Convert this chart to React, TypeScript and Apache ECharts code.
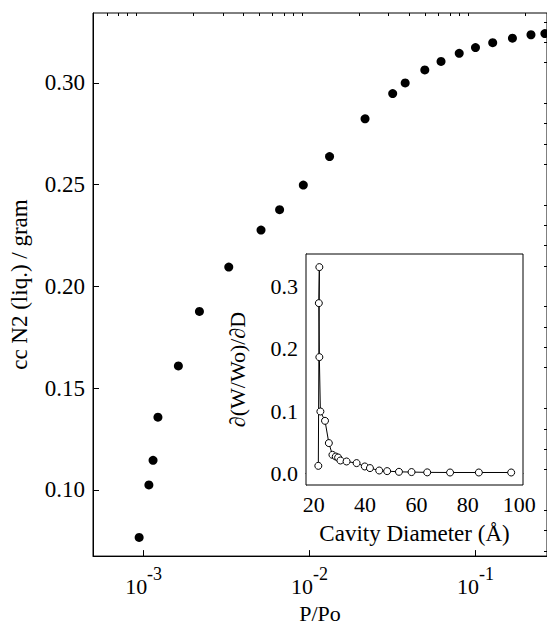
import React, { useEffect, useRef } from "react";
import * as echarts from "echarts";

// Main isotherm: relative pressure P/Po and adsorbed amount (cc N2 liq./gram)
const mainP = [9.4e-4, 1.076e-3, 1.14e-3, 1.22e-3, 1.62e-3, 2.17e-3, 3.26e-3, 5.1e-3, 6.6e-3, 9.17e-3, 1.32e-2, 2.16e-2, 3.17e-2, 3.77e-2, 4.95e-2, 6.2e-2, 7.98e-2, 0.1, 0.127, 0.167, 0.216, 0.262];
const mainV = [0.0766, 0.1024, 0.1145, 0.1357, 0.1609, 0.1877, 0.2095, 0.2277, 0.2377, 0.2498, 0.2638, 0.2824, 0.2948, 0.3, 0.3064, 0.3106, 0.3146, 0.3174, 0.3198, 0.322, 0.3237, 0.3243];

// Inset: cavity diameter (Å) and d(W/Wo)/dD
const insetD = [21.8, 22.2, 22.0, 22.2, 22.6, 24.4, 25.9, 27.3, 28.6, 29.5, 30.4, 32.8, 36.7, 39.9, 41.9, 45.5, 48.6, 53.2, 58.1, 64.2, 73.1, 84.3, 96.9];
const insetV = [0.012, 0.3315, 0.2736, 0.1868, 0.0994, 0.0844, 0.0486, 0.0297, 0.027, 0.0254, 0.0206, 0.019, 0.0164, 0.011, 0.0084, 0.0045, 0.0035, 0.0024, 0.002, 0.0015, 0.0013, 0.0013, 0.0013];

// Tick labels
const mainXMajor = [-3, -2, -1]; // log10(P/Po)
const mainYMajor = [0.1, 0.15, 0.2, 0.25, 0.3];
const insetXMajor = [20, 40, 60, 80, 100];
const insetYMajor = [0, 0.1, 0.2, 0.3];

const LMIN = -3.305;
const LMAX = -0.569;

const mainXMinor: number[] = [];
for (let n = -4; n <= -1; n++) {
  for (let k = 2; k <= 9; k++) {
    const v = n + Math.log10(k);
    if (v > LMIN && v < LMAX) mainXMinor.push(v);
  }
}
const mainYMinor: number[] = [];
for (let i = 7; i <= 33; i++) if (i % 5 !== 0) mainYMinor.push(i / 100);
const insetXMinor: number[] = [];
for (let i = 20; i <= 100; i += 5) if (i % 20 !== 0) insetXMinor.push(i);
const insetYMinor: number[] = [];
for (let i = 1; i <= 17; i++) if (i % 5 !== 0) insetYMinor.push(i * 0.02);

const FONT = "'Liberation Serif', 'Times New Roman', serif";
const BLACK = "#000";

export default function App() {
  const ref = useRef<HTMLDivElement>(null);
  useEffect(() => {
    if (!ref.current) return;
    const chart = echarts.init(ref.current, undefined, { renderer: "svg" });
    const lineStyle = { color: BLACK, width: 1 };
    const txt = (size: number) => ({ fontSize: size, fontFamily: FONT, color: BLACK });
    const option: any = {
      animation: false,
      backgroundColor: "#fff",
      textStyle: { fontFamily: FONT, color: BLACK },
      grid: [
        { left: 90, top: 13, right: -3, bottom: 63, show: true, borderColor: BLACK, borderWidth: 1, backgroundColor: "transparent" },
        { left: 306, top: 254, right: 24, bottom: 144, show: true, borderColor: BLACK, borderWidth: 1, backgroundColor: "#fff", z: 5 },
      ],
      xAxis: [
        {
          type: "value", gridIndex: 0, min: LMIN, max: LMAX,
          axisLine: { show: true, lineStyle },
          axisTick: { show: true, inside: true, length: 6, lineStyle, customValues: mainXMajor },
          axisLabel: {
            customValues: mainXMajor, margin: 11, ...txt(22),
            formatter: (v: number) => `{b|10}{s|${Math.round(v)}}`,
            rich: {
              b: { ...txt(22), verticalAlign: "bottom", lineHeight: 30 },
              s: { ...txt(18), verticalAlign: "bottom", lineHeight: 30, padding: [0, 0, 14, 0] },
            },
          },
          splitLine: { show: false },
          name: "P/Po", nameLocation: "middle", nameGap: 43,
          nameTextStyle: txt(22),
        },
        {
          type: "value", gridIndex: 0, min: LMIN, max: LMAX,
          axisLine: { show: false },
          axisTick: { show: true, inside: true, length: 3, lineStyle, customValues: mainXMinor },
          axisLabel: { show: false },
          splitLine: { show: false },
        },
        {
          type: "value", gridIndex: 1, min: 17, max: 101.5,
          axisLine: { show: true, lineStyle },
          axisTick: { show: true, inside: true, length: 5, lineStyle, customValues: insetXMajor },
          axisLabel: { customValues: insetXMajor, margin: 8, ...txt(22) },
          splitLine: { show: false },
          name: "Cavity Diameter (Å)", nameLocation: "middle", nameGap: 37,
          nameTextStyle: txt(23),
        },
        {
          type: "value", gridIndex: 1, min: 17, max: 101.5,
          axisLine: { show: false },
          axisTick: { show: true, inside: true, length: 3, lineStyle, customValues: insetXMinor },
          axisLabel: { show: false },
          splitLine: { show: false },
        },
      ],
      yAxis: [
        {
          type: "value", gridIndex: 0, min: 0.0674, max: 0.3344,
          axisLine: { show: true, lineStyle },
          axisTick: { show: true, inside: true, length: 6, lineStyle, customValues: mainYMajor },
          axisLabel: { customValues: mainYMajor, margin: 8, ...txt(23), formatter: (v: number) => v.toFixed(2) },
          splitLine: { show: false },
          name: "cc N2 (liq.) / gram", nameLocation: "middle", nameGap: 62,
          nameTextStyle: txt(23),
        },
        {
          type: "value", gridIndex: 0, min: 0.0674, max: 0.3344,
          axisLine: { show: false },
          axisTick: { show: true, inside: true, length: 3, lineStyle, customValues: mainYMinor },
          axisLabel: { show: false },
          splitLine: { show: false },
        },
        {
          type: "value", gridIndex: 1, min: -0.0188, max: 0.3526,
          axisLine: { show: true, lineStyle },
          axisTick: { show: true, inside: true, length: 5, lineStyle, customValues: insetYMajor },
          axisLabel: { customValues: insetYMajor, margin: 8, ...txt(22), formatter: (v: number) => v.toFixed(1) },
          splitLine: { show: false },
          name: "∂(W/Wo)/∂D", nameLocation: "middle", nameGap: 58,
          nameTextStyle: txt(22),
        },
        {
          type: "value", gridIndex: 1, min: -0.0188, max: 0.3526,
          axisLine: { show: false },
          axisTick: { show: true, inside: true, length: 3, lineStyle, customValues: insetYMinor },
          axisLabel: { show: false },
          splitLine: { show: false },
        },
      ],
      series: [
        {
          type: "scatter", xAxisIndex: 0, yAxisIndex: 0,
          data: mainP.map((p, i) => [Math.log10(p), mainV[i]]),
          symbol: "circle", symbolSize: 9,
          itemStyle: { color: BLACK, opacity: 1 },
          clip: false,
        },
        {
          type: "line", xAxisIndex: 2, yAxisIndex: 2, z: 6,
          data: insetD.map((d, i) => [d, insetV[i]]),
          symbol: "circle", symbolSize: 7, showAllSymbol: true,
          lineStyle: { color: BLACK, width: 1 },
          itemStyle: { color: "#fff", borderColor: BLACK, borderWidth: 1 },
        },
      ],
    };
    chart.setOption(option);
    return () => chart.dispose();
  }, []);
  return <div ref={ref} style={{ position: "absolute", left: 0, top: 0, width: 547, height: 629 }} />;
}
